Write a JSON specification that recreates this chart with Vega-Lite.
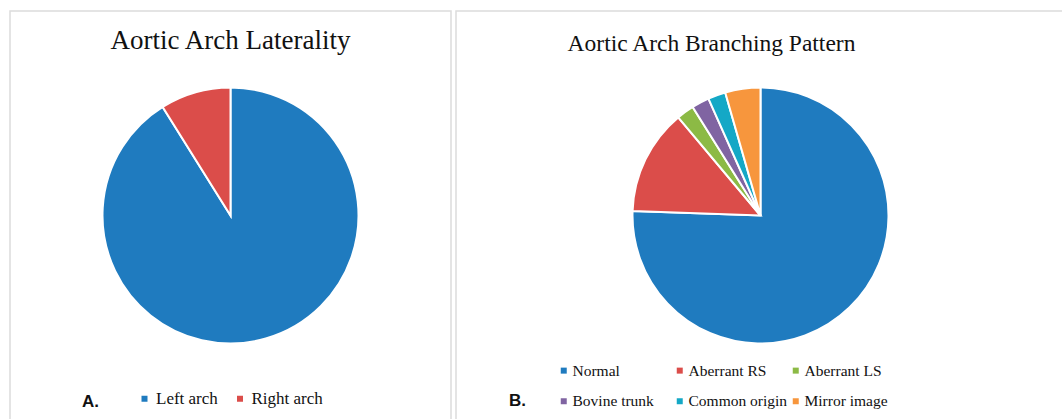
{
  "$schema": "https://vega.github.io/schema/vega-lite/v6.json",
  "padding": {"left": 9, "top": 10, "right": 0, "bottom": 0},
  "spacing": 3,
  "background": "white",
  "resolve": {"scale": {"color": "independent"}, "legend": {"color": "independent"}},
  "config": {
    "view": {"stroke": "#dcdcdc", "strokeWidth": 1.5},
    "title": {"font": "Liberation Serif", "fontSize": 27, "fontWeight": "normal", "color": "#111111", "baseline": "alphabetic", "offset": -44},
    "legend": {
      "labelFont": "Liberation Serif", "labelFontSize": 17, "labelColor": "#111111",
      "symbolType": "square", "symbolSize": 36, "symbolStrokeWidth": 0,
      "titleFont": "Liberation Sans", "titleFontSize": 17, "titleFontWeight": "bold", "titleColor": "#111111",
      "titleOrient": "left", "titleAnchor": "end", "titleBaseline": "alphabetic"
    }
  },
  "hconcat": [
    {
      "width": 441, "height": 409,
      "view": {"stroke": "#dcdcdc", "strokeWidth": 1.5},
      "title": {"text": "Aortic Arch Laterality"},
      "data": {"values": [
        {"arch": "Left arch", "n": 82, "k": 1},
        {"arch": "Right arch", "n": 8, "k": 2}
      ]},
      "mark": {"type": "arc", "outerRadius": 128, "stroke": "white", "strokeWidth": 2},
      "encoding": {
        "theta": {"field": "n", "type": "quantitative", "stack": true},
        "order": {"field": "k", "type": "quantitative"},
        "color": {
          "field": "arch", "type": "nominal", "sort": ["Left arch", "Right arch"],
          "scale": {"domain": ["Left arch", "Right arch"], "range": ["#1f7bbf", "#db4d4a"]},
          "legend": {"title": "A.", "orient": "none", "legendX": 72, "legendY": 379, "direction": "horizontal", "titlePadding": 37, "labelOffset": 3, "columnPadding": 13.5}
        }
      }
    },
    {
      "width": 609, "height": 409,
      "view": {"stroke": "#dcdcdc", "strokeWidth": 1.5},
      "title": {"text": "Aortic Arch Branching Pattern", "dx": -49, "fontSize": 23.5},
      "data": {"values": [
        {"pattern": "Normal", "n": 68, "k": 1},
        {"pattern": "Aberrant RS", "n": 12, "k": 2},
        {"pattern": "Aberrant LS", "n": 2, "k": 3},
        {"pattern": "Bovine trunk", "n": 2, "k": 4},
        {"pattern": "Common origin", "n": 2, "k": 5},
        {"pattern": "Mirror image", "n": 4, "k": 6}
      ]},
      "mark": {"type": "arc", "outerRadius": 128, "stroke": "white", "strokeWidth": 2},
      "encoding": {
        "theta": {"field": "n", "type": "quantitative", "stack": true},
        "order": {"field": "k", "type": "quantitative"},
        "color": {
          "field": "pattern", "type": "nominal",
          "sort": ["Normal", "Aberrant RS", "Aberrant LS", "Bovine trunk", "Common origin", "Mirror image"],
          "scale": {"domain": ["Normal", "Aberrant RS", "Aberrant LS", "Bovine trunk", "Common origin", "Mirror image"], "range": ["#1f7bbf", "#db4d4a", "#8cba45", "#8064a2", "#14a8c6", "#f7963d"]},
          "legend": {"title": "B.", "orient": "none", "legendX": 53, "legendY": 351.5, "direction": "horizontal", "columns": 3, "gridAlign": "all", "titlePadding": 30, "titleBaseline": "bottom", "labelFontSize": 15.5, "labelOffset": 1, "columnPadding": -16.5, "rowPadding": 14}
        }
      }
    }
  ]
}
